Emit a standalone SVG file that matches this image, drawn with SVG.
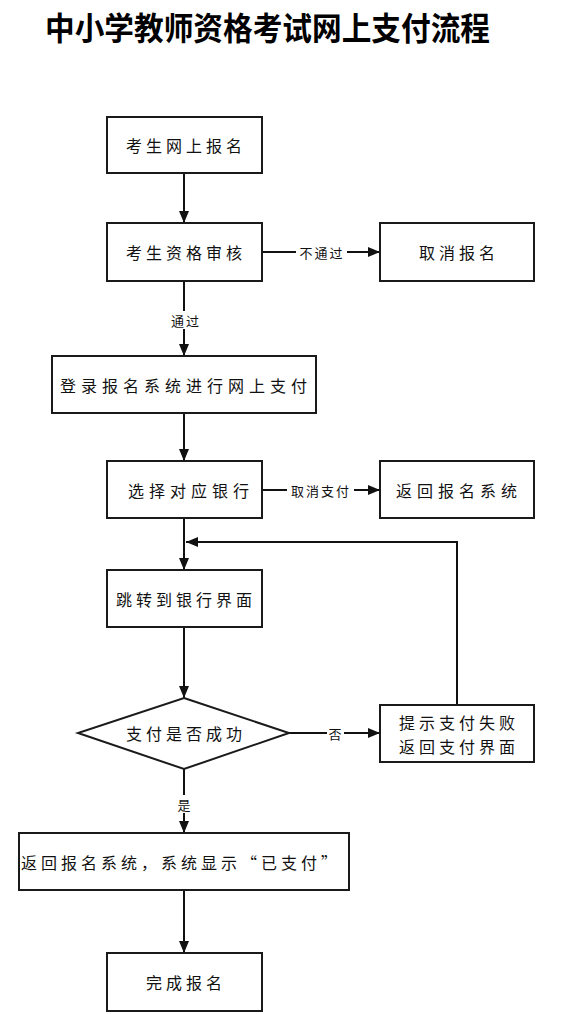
<svg xmlns="http://www.w3.org/2000/svg" width="574" height="1014" viewBox="0 0 574 1014">
<style>
.box{fill:#fff;stroke:#1a1a1a;stroke-width:2}
.t{font-family:"Noto Sans CJK SC","Noto Sans",sans-serif;font-size:16px;fill:#111;text-anchor:middle;dominant-baseline:central;letter-spacing:4px}
.lb{font-family:"Noto Sans CJK SC","Noto Sans",sans-serif;font-size:13px;fill:#111;text-anchor:middle;dominant-baseline:central;letter-spacing:2px}
.title{font-family:"Noto Sans CJK SC","Noto Sans",sans-serif;font-size:32px;font-weight:bold;fill:#000}
.c{fill:none;stroke:#111;stroke-width:2}
</style>
<defs>
<marker id="ah" markerUnits="userSpaceOnUse" markerWidth="12" markerHeight="12" viewBox="0 0 12 12" refX="12" refY="6" orient="auto">
<path d="M0,1 L12,6 L0,11 Z" fill="#111"/>
</marker>
</defs>
<rect width="574" height="1014" fill="#fff"/>
<text class="title" x="45" y="40" textLength="445" lengthAdjust="spacingAndGlyphs">中小学教师资格考试网上支付流程</text>

<g id="connectors">
<line class="c" x1="184" y1="173" x2="184" y2="223" marker-end="url(#ah)"/>
<line class="c" x1="262" y1="252" x2="296" y2="252"/>
<line class="c" x1="347" y1="252" x2="380" y2="252" marker-end="url(#ah)"/>
<line class="c" x1="184" y1="281" x2="184" y2="311"/>
<line class="c" x1="184" y1="329" x2="184" y2="356" marker-end="url(#ah)"/>
<line class="c" x1="184" y1="413" x2="184" y2="461" marker-end="url(#ah)"/>
<line class="c" x1="262" y1="490" x2="287" y2="490"/>
<line class="c" x1="354" y1="490" x2="380" y2="490" marker-end="url(#ah)"/>
<line class="c" x1="184" y1="518" x2="184" y2="570" marker-end="url(#ah)"/>
<polyline class="c" points="457,705 457,542 186,542" marker-end="url(#ah)"/>
<line class="c" x1="184" y1="627" x2="184" y2="698" marker-end="url(#ah)"/>
<line class="c" x1="289" y1="733" x2="327" y2="733"/>
<line class="c" x1="344" y1="733" x2="380" y2="733" marker-end="url(#ah)"/>
<line class="c" x1="184" y1="769" x2="184" y2="795"/>
<line class="c" x1="184" y1="813" x2="184" y2="833" marker-end="url(#ah)"/>
<line class="c" x1="184" y1="890" x2="184" y2="953" marker-end="url(#ah)"/>
<text class="lb" x="322" y="252">不通过</text>
<text class="lb" x="186" y="320">通过</text>
<text class="lb" x="321" y="490">取消支付</text>
<text class="lb" x="336" y="733">否</text>
<text class="lb" x="185" y="804">是</text>
</g>

<g id="n1"><rect class="box" x="107" y="117" width="155" height="56"/><text class="t" x="186" y="145">考生网上报名</text></g>
<g id="n2"><rect class="box" x="107" y="223" width="155" height="58"/><text class="t" x="186" y="252">考生资格审核</text></g>
<g id="n3"><rect class="box" x="380" y="223" width="154" height="58"/><text class="t" x="459" y="252">取消报名</text></g>
<g id="n4"><rect class="box" x="52" y="356" width="264" height="57"/><text class="t" x="186" y="385" style="letter-spacing:5px">登录报名系统进行网上支付</text></g>
<g id="n5"><rect class="box" x="107" y="461" width="155" height="57"/><text class="t" x="191" y="490" style="letter-spacing:5px">选择对应银行</text></g>
<g id="n6"><rect class="box" x="380" y="461" width="154" height="57"/><text class="t" x="459" y="490" style="letter-spacing:5px">返回报名系统</text></g>
<g id="n7"><rect class="box" x="107" y="570" width="155" height="57"/><text class="t" x="186" y="599">跳转到银行界面</text></g>
<g id="n8"><polygon class="box" points="184,698 289,733 184,769 78,733"/><text class="t" x="186" y="733">支付是否成功</text></g>
<g id="n9"><rect class="box" x="380" y="705" width="154" height="57"/><text class="t" x="459" y="722">提示支付失败</text><text class="t" x="459" y="746">返回支付界面</text></g>
<g id="n10"><rect class="box" x="19" y="833" width="330" height="57"/><text class="t" x="181" y="862">返回报名系统，系统显示“已支付”</text></g>
<g id="n11"><rect class="box" x="107" y="953" width="155" height="58"/><text class="t" x="186" y="982">完成报名</text></g>
</svg>
